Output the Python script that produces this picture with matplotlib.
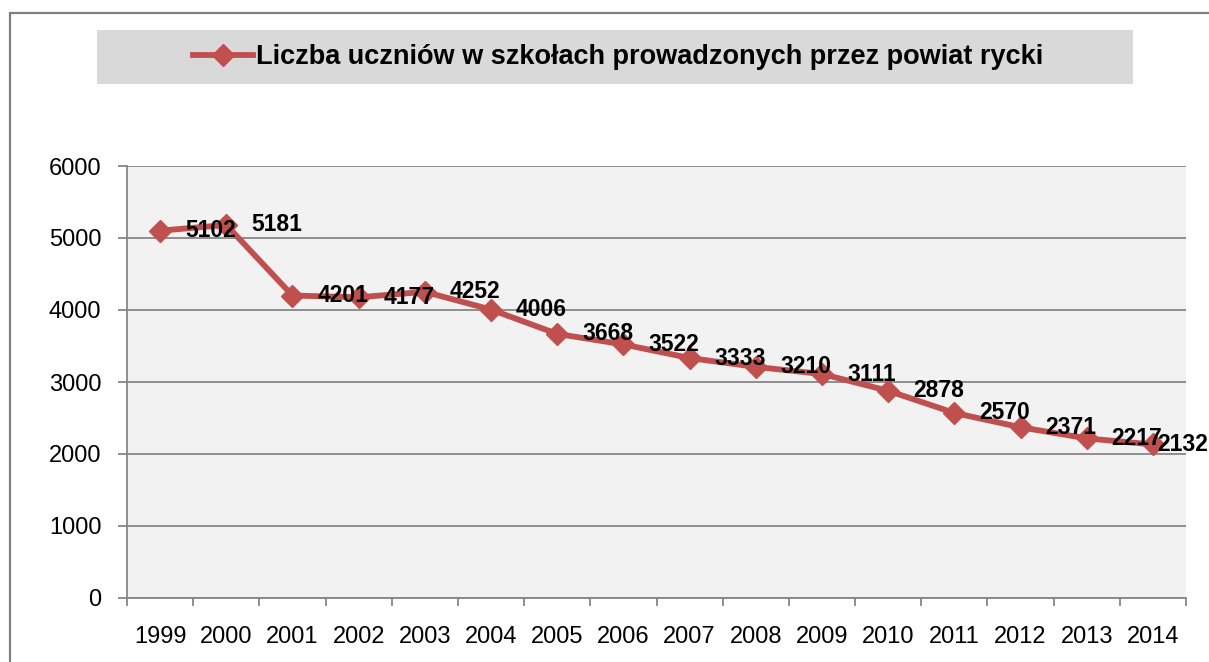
import matplotlib
matplotlib.use("Agg")
import matplotlib.pyplot as plt
from matplotlib.patches import Rectangle
import numpy as np

years = ["1999", "2000", "2001", "2002", "2003", "2004", "2005", "2006",
         "2007", "2008", "2009", "2010", "2011", "2012", "2013", "2014"]
students = [5102, 5181, 4201, 4177, 4252, 4006, 3668, 3522,
            3333, 3210, 3111, 2878, 2570, 2371, 2217, 2132]
series_name = "Liczba uczniów w szkołach prowadzonych przez powiat rycki"

plt.rcParams['font.family'] = ['Liberation Sans', 'DejaVu Sans']

red = '#c0504d'
grid_col = '#868686'

fig = plt.figure(figsize=(12.09, 6.62), dpi=100)

# outer chart frame
fig.patches.append(Rectangle((10/1209, -0.05), 1.2, 1 - 13/662 + 0.05,
                             transform=fig.transFigure, fill=False,
                             edgecolor='#7f7f7f', linewidth=1.6, zorder=0))
# legend background
fig.patches.append(Rectangle((97/1209, 1 - 84/662), (1133 - 97)/1209, 54/662,
                             transform=fig.transFigure, facecolor='#d9d9d9',
                             edgecolor='none', zorder=1))

ax = fig.add_axes([127/1209, 1 - 598/662, (1186 - 127)/1209, (598 - 166)/662])
ax.set_facecolor('#f2f2f2')

x = np.arange(len(years))
line, = ax.plot(x, students, color=red, linewidth=4.2, marker='D',
                markersize=11, clip_on=False, zorder=3)

# data labels to the right of each point
for xi, v in zip(x, students):
    dx = 18 if xi < len(years) - 1 else 3
    ax.annotate(str(v), (xi, v), xytext=(dx, 0), textcoords='offset points',
                ha='left', va='center', fontsize=16.5, fontweight='bold',
                zorder=4, annotation_clip=False)

ax.set_xlim(-0.5, len(years) - 0.5)
ax.set_ylim(0, 6000)
ax.set_yticks(np.arange(0, 6001, 1000))
ax.yaxis.grid(True, color=grid_col, linewidth=1.3)
ax.set_axisbelow(True)

ax.set_xticks(x)
ax.set_xticklabels(years)
ax.set_xticks(np.arange(-0.5, len(years), 1), minor=True)
ax.tick_params(axis='x', which='major', length=0, pad=20, labelsize=17)
ax.tick_params(axis='x', which='minor', length=6, width=1.3, color=grid_col,
               direction='out')
ax.tick_params(axis='y', length=6.5, width=1.3, color=grid_col, pad=12,
               labelsize=17)

for side in ['top', 'right']:
    ax.spines[side].set_visible(False)
for side in ['left', 'bottom']:
    ax.spines[side].set_color(grid_col)
    ax.spines[side].set_linewidth(1.3)

leg = fig.legend([line], [series_name], loc='center',
                 bbox_to_anchor=(618/1209, 1 - 57/662), frameon=False,
                 prop={'weight': 'bold', 'size': 19.5}, handlelength=2.2,
                 handletextpad=0.1)

fig.savefig("out.png", dpi=100)
